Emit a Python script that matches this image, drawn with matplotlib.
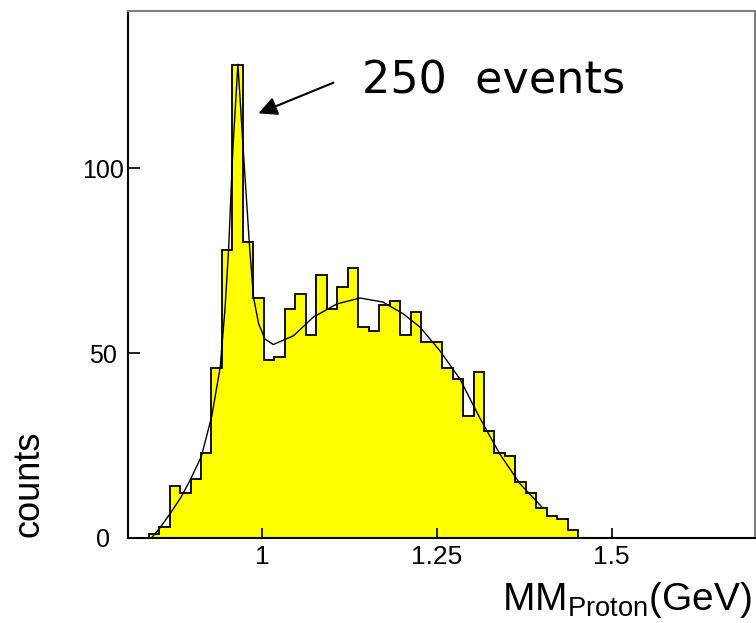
import matplotlib
matplotlib.use("Agg")
import matplotlib.pyplot as plt
import numpy as np

plt.rcParams['font.family'] = ['Liberation Sans', 'DejaVu Sans']
plt.rcParams['mathtext.fontset'] = 'custom'
plt.rcParams['mathtext.rm'] = 'Liberation Sans'

# histogram: 41 bins of 0.015 GeV starting at 0.8375
bin_lo = 0.8375
bin_w = 0.015
counts = [1, 3, 14, 12, 16, 23, 46, 78, 128, 80,
          65, 48, 49, 62, 66, 55, 71, 62, 68, 73,
          57, 56, 63, 64, 55, 61, 53, 53, 46, 43,
          33, 45, 29, 23, 22, 15, 12, 8, 6, 5, 2]

# fit curve
fit_x = [0.842, 0.855, 0.870, 0.884, 0.897, 0.913, 0.928, 0.940, 0.947, 0.952,
         0.958, 0.9653, 0.973, 0.982, 0.9876, 0.995, 1.004, 1.016, 1.045, 1.073,
         1.107, 1.140, 1.173, 1.202, 1.226, 1.254, 1.283, 1.311, 1.340, 1.369, 1.400]
fit_y = [0, 3, 7, 11, 15.6, 22, 33, 46.2, 62.4, 78.0,
         104.9, 128.2, 104.9, 78.7, 65.1, 57.9, 53.8, 52.3, 54.7, 59.7,
         63.3, 64.9, 63.8, 60.6, 57.0, 50.7, 43.0, 32.6, 22.7, 14.6, 8.4]

xticks = [1, 1.25, 1.5]
xticklabels = ['1', '1.25', '1.5']
yticks = [0, 50, 100]

note_text = '250  events'
arrow_tip = (0.9947, 114.9)
arrow_tail = (1.102, 123.2)

edges = bin_lo + bin_w * np.arange(len(counts) + 1)

fig = plt.figure(figsize=(7.56, 6.23), dpi=100)
ax = fig.add_axes([0.1693, 0.1369, 0.8300, 0.8454])

# yellow filled histogram with black outline
ax.stairs(counts, edges, baseline=0, fill=True, color='#ffff00', lw=0)
ax.stairs(counts, edges, baseline=0, fill=False, color='black', lw=1.3)

# fit
ax.plot(fit_x, fit_y, color='black', lw=1.0)

ax.set_xlim(0.808, 1.706)
ax.set_ylim(0, 142.6)

ax.set_xticks(xticks)
ax.set_xticklabels(xticklabels)
ax.set_yticks(yticks)
ax.tick_params(axis='x', direction='in', length=7, width=1.2, labelsize=19, pad=5)
ax.tick_params(axis='y', direction='in', length=8.5, width=1.2, labelsize=18, pad=18)
for lab in ax.get_yticklabels():
    lab.set_horizontalalignment('center')

ax.spines['left'].set_color('black')
ax.spines['bottom'].set_color('black')
ax.spines['top'].set_color('#808080')
ax.spines['right'].set_color('#808080')
for s in ax.spines.values():
    s.set_linewidth(1.5)

# annotation
ax.annotate('', xy=arrow_tip, xytext=arrow_tail,
            arrowprops=dict(arrowstyle='-|>', color='black', lw=1.5,
                            mutation_scale=28, shrinkA=0, shrinkB=0))
fig.text(362 / 756, 1 - 93 / 623, note_text, fontsize=32, family='DejaVu Sans',
         ha='left', va='baseline')

# axis titles
fig.text(752 / 756, 1 - 610 / 623, r'MM$_{\mathrm{Proton}}$(GeV)', fontsize=28,
         ha='right', va='baseline')
fig.text(28.7 / 756, 1 - 484 / 623, 'counts', fontsize=26, rotation=90,
         ha='center', va='center')

fig.savefig('out.png', dpi=100)
